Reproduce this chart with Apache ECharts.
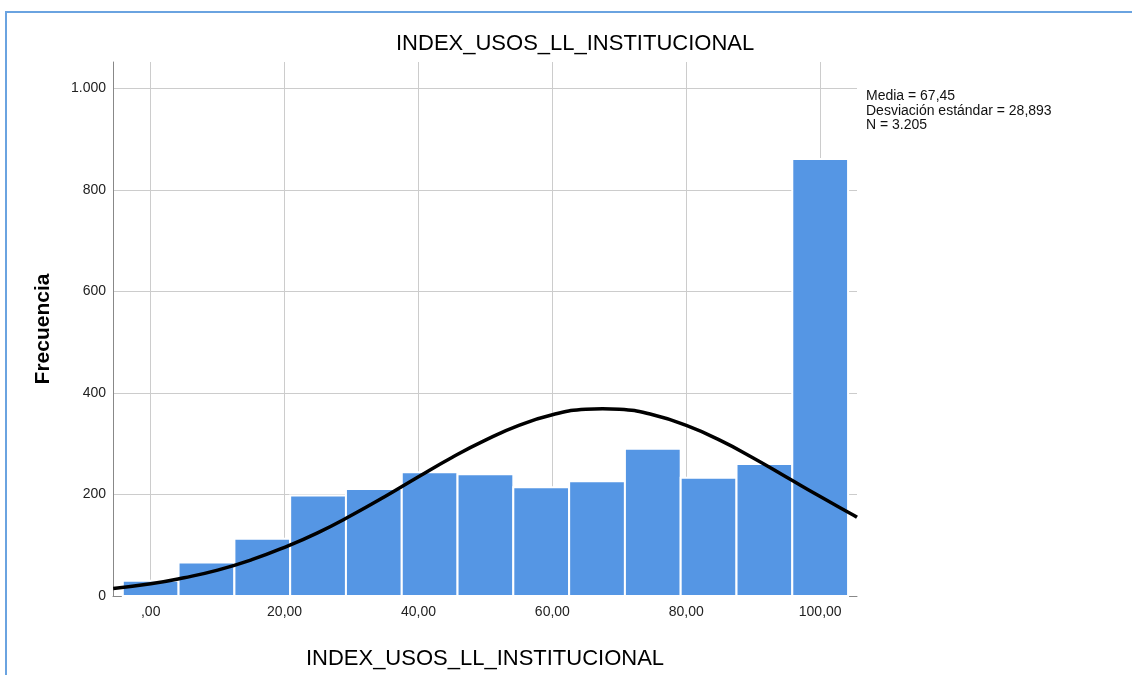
<!DOCTYPE html>
<html>
<head>
<meta charset="utf-8">
<title>INDEX_USOS_LL_INSTITUCIONAL</title>
<script src="https://cdn.jsdelivr.net/npm/echarts@6/dist/echarts.min.js"></script>
<style>
  html, body { margin: 0; padding: 0; background: #fff; }
  #chart { width: 1132px; height: 675px; }
</style>
</head>
<body>
<div id="chart"></div>
<script>
// histogram bins (center of each bin) and counts
const binCenters = [0, 8.33, 16.67, 25, 33.33, 41.67, 50, 58.33, 66.67, 75, 83.33, 91.67, 100]
const frequencies = [30, 66, 113, 198, 211, 244, 240, 214, 226, 290, 233, 260, 861]
const binWidth = 8.333

// normal curve
const curveX = [-5.6, 0, 5, 10, 15, 20, 25, 30, 35, 40, 45, 50, 55, 60, 65, 67.5, 70, 75, 80, 85, 90, 95, 100, 105, 105.5]
const curveY = [15, 24, 36, 51, 71, 96, 125, 159, 196, 235, 273, 307, 336, 357, 368, 369, 368, 357, 336, 307, 272, 234, 196, 159, 155]

const statsLines = ['Media = 67,45', 'Desviación estándar = 28,893', 'N = 3.205']
const titleText = 'INDEX_USOS_LL_INSTITUCIONAL'

const fontFamily = '"Liberation Sans", Arial, sans-serif'
const barColor = '#5596e4'

function fmtX(v) {
  if (Math.abs(v % 20) > 1e-6) return ''
  return v === 0 ? ',00' : v.toFixed(2).replace('.', ',')
}

function fmtY(v) {
  return String(v).replace(/\B(?=(\d{3})+(?!\d))/g, '.')
}

const chart = echarts.init(document.getElementById('chart'), null, { renderer: 'canvas' })

chart.setOption({
  backgroundColor: '#fff',
  animation: false,
  textStyle: { fontFamily },
  grid: { left: 113, right: 275, top: 62, bottom: 77 },
  xAxis: {
    type: 'value',
    min: -5.63,
    max: 105.5,
    splitNumber: 5,
    name: titleText,
    nameLocation: 'middle',
    nameGap: 52,
    nameTextStyle: { fontSize: 22, color: '#000', fontFamily },
    axisLine: { show: true, onZero: false, lineStyle: { color: '#888', width: 1 } },
    axisTick: { show: false },
    axisLabel: { formatter: fmtX, color: '#222', fontSize: 14, margin: 9, showMinLabel: false, showMaxLabel: false },
    splitLine: { show: true, showMinLine: false, showMaxLine: false, lineStyle: { color: '#cccccc', width: 1 } }
  },
  yAxis: {
    type: 'value',
    min: 0,
    max: 1052,
    interval: 200,
    name: 'Frecuencia',
    nameLocation: 'middle',
    nameRotate: 90,
    nameGap: 59,
    nameTextStyle: { fontSize: 21, fontWeight: 'bold', color: '#000', fontFamily },
    axisLine: { show: true, onZero: false, lineStyle: { color: '#888', width: 1 } },
    axisTick: { show: false },
    axisLabel: { formatter: fmtY, color: '#222', fontSize: 14, margin: 7, showMaxLabel: false },
    splitLine: { show: true, showMinLine: false, showMaxLine: false, lineStyle: { color: '#cccccc', width: 1 } }
  },
  graphic: [
    {
      type: 'polyline',
      shape: { points: [[6, 675], [6, 12], [1132, 12]] },
      style: { stroke: '#6aa3e0', lineWidth: 2, fill: null },
      silent: true
    },
    {
      type: 'text',
      left: 396, top: 33,
      style: { text: titleText, font: '22px ' + fontFamily, fill: '#000' }
    },
    {
      type: 'text',
      left: 866, top: 89,
      style: { text: statsLines.join('\n'), font: '14px ' + fontFamily, lineHeight: 14.5, fill: '#111' }
    }
  ],
  series: [
    {
      type: 'custom',
      data: binCenters.map((c, i) => [c, frequencies[i]]),
      encode: { x: 0, y: 1 },
      renderItem: (params, api) => {
        const c = api.value(0)
        const top = api.coord([c - binWidth / 2, api.value(1)])
        const bot = api.coord([c + binWidth / 2, 0])
        return {
          type: 'rect',
          shape: { x: top[0], y: top[1], width: bot[0] - top[0], height: bot[1] - top[1] },
          style: { fill: barColor, stroke: '#fff', lineWidth: 2 }
        }
      },
      z: 2
    },
    {
      type: 'line',
      data: curveX.map((x, i) => [x, curveY[i]]),
      smooth: true,
      showSymbol: false,
      clip: true,
      lineStyle: { color: '#000', width: 3.5 },
      z: 5
    }
  ]
})
</script>
</body>
</html>
